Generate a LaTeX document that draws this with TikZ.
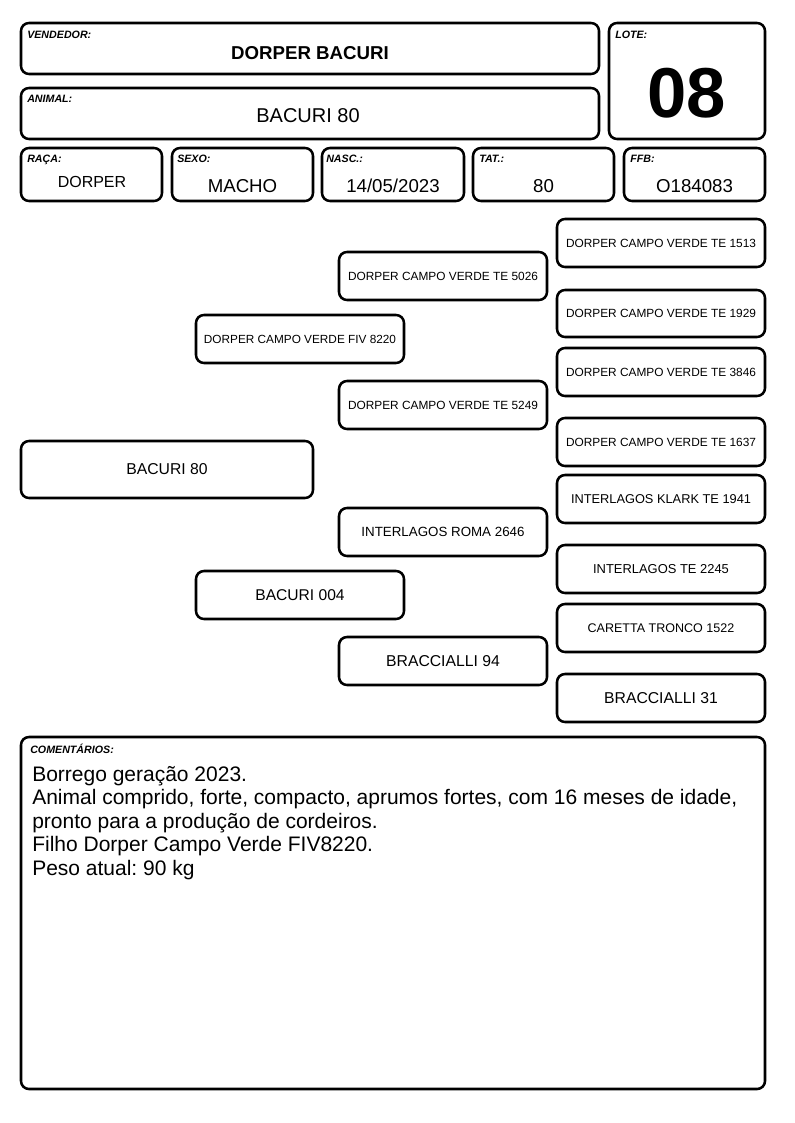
\documentclass[tikz,border=0pt]{standalone}
\usepackage{fontspec}
\setmainfont{Liberation Sans}
\usetikzlibrary{positioning}
\frenchspacing

\tikzset{
  cardbox/.style={line width=1.9pt, rounded corners=6pt},
  fieldlabel/.style={anchor=base west, inner sep=0pt, font=\bfseries\itshape\fontsize{8}{9}\selectfont},
  fieldvalue/.style={anchor=base, inner sep=0pt, font=\fontsize{14}{16}\selectfont},
  pedname/.style={inner sep=0pt, font=\fontsize{#1}{#1}\selectfont},
  pedname/.default=8.9,
  commline/.style={anchor=base west, inner sep=0pt, font=\fontsize{15.75}{18}\selectfont},
}

\begin{document}
\begin{tikzpicture}[x=0.75pt, y=-0.75pt]

		\useasboundingbox (0,0) rectangle (794,1123);

		% header
		\draw[cardbox] (21,23) rectangle (599,74);
		\draw[cardbox] (21,88) rectangle (599,139);
		\draw[cardbox] (609,23) rectangle (765,139);

		\node[fieldlabel] (lblvend) at (27,39) {VENDEDOR:};
		\node[fieldvalue, font=\bfseries\fontsize{14}{16}\selectfont] (vendedor) at (310,60) {DORPER BACURI};
		\node[fieldlabel] (lblanimal) at (27,103) {ANIMAL:};
		\node[fieldvalue, font=\fontsize{15}{17}\selectfont] (animal) at (308,123) {BACURI 80};
		\node[fieldlabel] (lbllote) at (615,39) {LOTE:};
		\node[fieldvalue, font=\bfseries\fontsize{53}{60}\selectfont] (lote) at (687,118) {08};

		% data row
		\draw[cardbox] (21,148) rectangle (162,201);
		\draw[cardbox] (172,148) rectangle (313,201);
		\draw[cardbox] (322,148) rectangle (464,201);
		\draw[cardbox] (473,148) rectangle (614,201);
		\draw[cardbox] (624,148) rectangle (765,201);

		\node[fieldlabel] (lblraca) at (27,163) {RAÇA:};
		\node[fieldlabel] (lblsexo) at (177,163) {SEXO:};
		\node[fieldlabel] (lblnasc) at (326,163) {NASC.:};
		\node[fieldlabel] (lbltat) at (479,163) {TAT.:};
		\node[fieldlabel] (lblffb) at (630,163) {FFB:};

		\node[fieldvalue, font=\fontsize{12}{14}\selectfont] (raca) at (92,188) {DORPER};
		\node[fieldvalue] (sexo) at (242.5,193) {MACHO};
		\node[fieldvalue] (nasc) at (393,193) {14/05/2023};
		\node[fieldvalue] (tat) at (543.5,193) {80};
		\node[fieldvalue] (ffb) at (694.5,193) {O184083};

		% pedigree
		\foreach \nm/\xa/\ya/\xb/\yb/\sz/\txt in {
			animalped/21/441/313/498/11.8/BACURI 80,
			pai/196/315/404/363/8.85/DORPER CAMPO VERDE FIV 8220,
			mae/196/571/404/619/11.7/BACURI 004,
			avopp/339/252/547/300/8.9/DORPER CAMPO VERDE TE 5026,
			avopm/339/381/547/429/8.9/DORPER CAMPO VERDE TE 5249,
			avomp/339/508/547/556/10/INTERLAGOS ROMA 2646,
			avomm/339/637/547/685/11.8/BRACCIALLI 94,
			bisa1/557/219/765/267/8.9/DORPER CAMPO VERDE TE 1513,
			bisa2/557/290/765/337/8.9/DORPER CAMPO VERDE TE 1929,
			bisa3/557/348/765/396/8.9/DORPER CAMPO VERDE TE 3846,
			bisa4/557/418/765/466/8.9/DORPER CAMPO VERDE TE 1637,
			bisa5/557/475/765/523/9.6/INTERLAGOS KLARK TE 1941,
			bisa6/557/545/765/593/9.7/INTERLAGOS TE 2245,
			bisa7/557/604/765/652/9.4/CARETTA TRONCO 1522,
			bisa8/557/674/765/722/11.8/BRACCIALLI 31}
		{
			\draw[cardbox] (\xa,\ya) rectangle (\xb,\yb);
			\node[pedname=\sz] (\nm) at ({(\xa+\xb)/2},{(\ya+\yb)/2}) {\txt};
		}

		% comments
		\draw[cardbox] (21,737) rectangle (765,1089);
		\node[fieldlabel] (lblcoment) at (30,753) {COMENTÁRIOS:};
		\foreach \txt [count=\i] in {
			{Borrego geração 2023.},
			{Animal comprido, forte, compacto, aprumos fortes, com 16 meses de idade,},
			{pronto para a produção de cordeiros.},
			{Filho Dorper Campo Verde FIV8220.},
			{Peso atual: 90 kg}}
			\node[commline] (coment\i) at (32,{781+23.6*(\i-1)}) {\txt};

\end{tikzpicture}
\end{document}
